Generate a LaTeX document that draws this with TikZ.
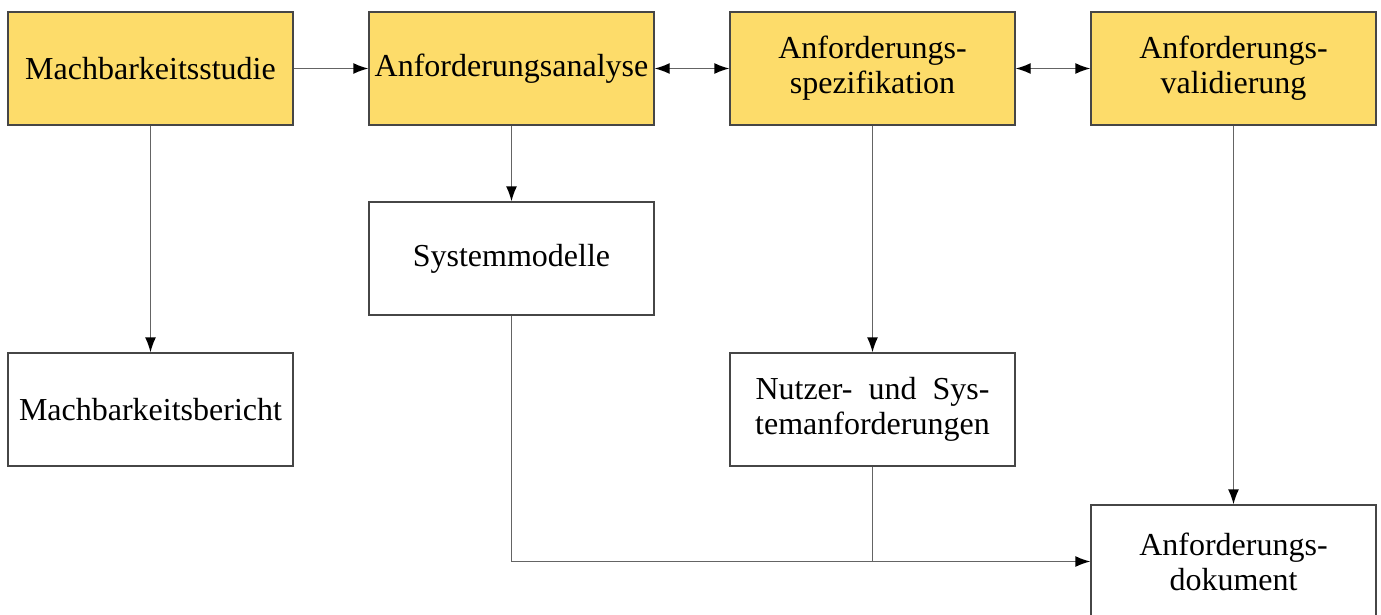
\documentclass[tikz,border=0pt]{standalone}
\usepackage{fontspec}
\setmainfont{Liberation Serif}
\usetikzlibrary{arrows.meta}
\definecolor{phase}{RGB}{253,220,106}
\definecolor{edge}{RGB}{100,100,100}
\tikzset{
  box/.style={draw=edge!70!black, line width=0.7pt, rectangle,
    minimum width=142.5pt, minimum height=56.5pt, align=center,
    inner sep=0pt, font=\fontsize{16}{17.5}\selectfont},
  phasebox/.style={box, fill=phase},
  docbox/.style={box, fill=white},
  tip/.style={Latex[black,length=7.5pt,width=5.5pt]},
  flow/.style={draw=edge, line width=0.7pt, -{Latex[black,length=7.5pt,width=5.5pt]}},
  twoway/.style={draw=edge, line width=0.7pt, {Latex[black,length=7.5pt,width=5.5pt]}-{Latex[black,length=7.5pt,width=5.5pt]}}
}
\begin{document}
\begin{tikzpicture}[x=0.5pt,y=-0.5pt]
\useasboundingbox (0,0) rectangle (1381,615);
% process phases
\node[phasebox] (mach) at (150.5,68.5) {Machbarkeitsstudie};
\node[phasebox] (anal) at (511.5,68.5) {Anforderungsanalyse};
\node[phasebox] (spez) at (872.5,68.5) {Anforderungs-\\spezifikation};
\node[phasebox] (vali) at (1233.5,68.5) {Anforderungs-\\validierung};
% produced documents
\node[docbox] (sysm) at (511.5,258.5) {Systemmodelle};
\node[docbox] (ber) at (150.5,409.5) {Machbarkeitsbericht};
\node[docbox] (nutz) at (872.5,409.5) {Nutzer-\hspace{0.5em}und\hspace{0.5em}Sys-\\temanforderungen};
\node[docbox] (dok) at (1233.5,561.5) {Anforderungs-\\dokument};
% phase sequence
\draw[flow] (mach) -- (anal);
\draw[twoway] (anal) -- (spez);
\draw[twoway] (spez) -- (vali);
% phase outputs
\draw[flow] (mach) -- (ber);
\draw[flow] (anal) -- (sysm);
\draw[flow] (spez) -- (nutz);
\draw[flow] (vali) -- (dok);
% merge into the requirements document
\coordinate (join) at (nutz.south |- dok.west);
\draw[flow] (sysm.south) |- (dok.west);
\draw[draw=edge, line width=0.7pt] (nutz.south) -- (join);
\end{tikzpicture}
\end{document}
